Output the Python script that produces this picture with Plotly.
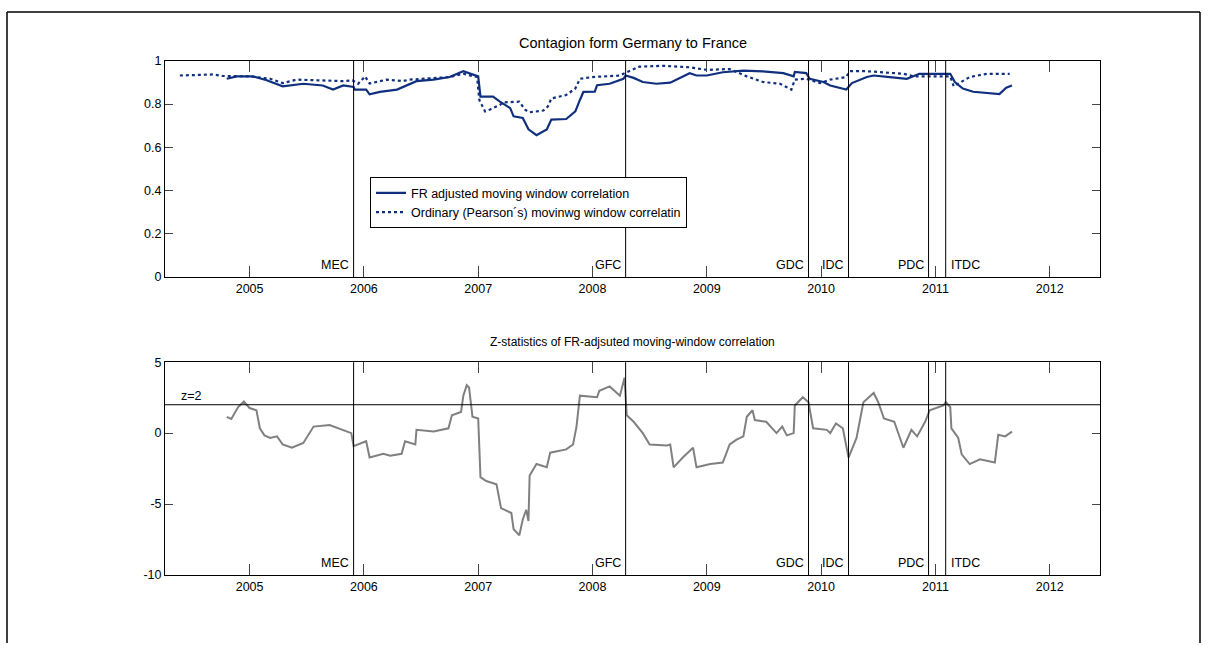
import plotly.graph_objects as go

# ---------------- data ----------------
fr_years = [2004.80, 2004.89, 2005.03, 2005.15, 2005.29, 2005.47, 2005.64, 2005.73, 2005.82, 2005.91,
            2005.92, 2006.02, 2006.05, 2006.14, 2006.29, 2006.34, 2006.46, 2006.61, 2006.75, 2006.87,
            2006.93, 2007.00, 2007.02, 2007.13, 2007.19, 2007.28, 2007.31, 2007.39, 2007.44, 2007.51,
            2007.60, 2007.64, 2007.77, 2007.85, 2007.89, 2007.92, 2008.02, 2008.04, 2008.15, 2008.27,
            2008.29, 2008.36, 2008.44, 2008.56, 2008.68, 2008.76, 2008.85, 2008.91, 2009.00, 2009.14,
            2009.32, 2009.49, 2009.67, 2009.76, 2009.77, 2009.87, 2009.90, 2010.02, 2010.08, 2010.22,
            2010.27, 2010.40, 2010.46, 2010.60, 2010.75, 2010.86, 2011.13, 2011.17, 2011.24, 2011.33,
            2011.48, 2011.56, 2011.62, 2011.67]
fr_values = [0.917, 0.928, 0.928, 0.910, 0.882, 0.894, 0.886, 0.867, 0.886, 0.879,
             0.867, 0.867, 0.845, 0.856, 0.867, 0.879, 0.906, 0.913, 0.925, 0.952,
             0.940, 0.928, 0.834, 0.834, 0.811, 0.781, 0.743, 0.736, 0.683, 0.656,
             0.683, 0.728, 0.731, 0.766, 0.819, 0.856, 0.857, 0.887, 0.894, 0.917,
             0.932, 0.921, 0.902, 0.894, 0.899, 0.921, 0.943, 0.932, 0.932, 0.947,
             0.955, 0.951, 0.943, 0.928, 0.949, 0.943, 0.917, 0.902, 0.886, 0.867,
             0.897, 0.925, 0.932, 0.925, 0.917, 0.940, 0.940, 0.902, 0.872, 0.857,
             0.850, 0.846, 0.876, 0.886]

pearson_years = [2004.39, 2004.68, 2004.76, 2005.00, 2005.18, 2005.29, 2005.41, 2005.62, 2005.82, 2005.90,
                 2005.95, 2006.01, 2006.05, 2006.20, 2006.34, 2006.40, 2006.52, 2006.75, 2006.87, 2006.93,
                 2006.99, 2007.01, 2007.06, 2007.10, 2007.19, 2007.22, 2007.36, 2007.41, 2007.45, 2007.57,
                 2007.61, 2007.64, 2007.77, 2007.85, 2007.89, 2008.00, 2008.09, 2008.24, 2008.30, 2008.41,
                 2008.62, 2008.85, 2009.00, 2009.20, 2009.35, 2009.49, 2009.64, 2009.74, 2009.77, 2009.87,
                 2009.99, 2010.08, 2010.22, 2010.25, 2010.40, 2010.51, 2010.72, 2010.81, 2010.89, 2011.13,
                 2011.16, 2011.22, 2011.30, 2011.45, 2011.65]
pearson_values = [0.932, 0.937, 0.930, 0.928, 0.917, 0.897, 0.913, 0.910, 0.906, 0.910,
                  0.894, 0.928, 0.895, 0.913, 0.906, 0.913, 0.917, 0.925, 0.940, 0.932,
                  0.925, 0.819, 0.766, 0.774, 0.796, 0.808, 0.811, 0.774, 0.762, 0.770,
                  0.789, 0.826, 0.842, 0.872, 0.917, 0.925, 0.928, 0.932, 0.947, 0.973,
                  0.977, 0.970, 0.958, 0.962, 0.928, 0.902, 0.894, 0.867, 0.913, 0.917,
                  0.897, 0.913, 0.925, 0.952, 0.952, 0.947, 0.940, 0.928, 0.928, 0.928,
                  0.882, 0.902, 0.925, 0.940, 0.940]

z_years = [2004.80, 2004.84, 2004.90, 2004.95, 2005.00, 2005.06, 2005.09, 2005.13, 2005.18, 2005.24,
           2005.29, 2005.37, 2005.47, 2005.56, 2005.70, 2005.82, 2005.89, 2005.91, 2006.02, 2006.05,
           2006.17, 2006.23, 2006.33, 2006.36, 2006.45, 2006.46, 2006.61, 2006.74, 2006.77, 2006.85,
           2006.87, 2006.90, 2006.92, 2006.95, 2007.00, 2007.02, 2007.07, 2007.16, 2007.20, 2007.29,
           2007.31, 2007.36, 2007.39, 2007.42, 2007.44, 2007.45, 2007.51, 2007.60, 2007.63, 2007.77,
           2007.83, 2007.86, 2007.89, 2008.04, 2008.06, 2008.15, 2008.24, 2008.28, 2008.30, 2008.36,
           2008.44, 2008.50, 2008.65, 2008.68, 2008.71, 2008.79, 2008.88, 2008.91, 2009.03, 2009.14,
           2009.20, 2009.26, 2009.32, 2009.35, 2009.40, 2009.42, 2009.52, 2009.61, 2009.66, 2009.70,
           2009.76, 2009.77, 2009.84, 2009.89, 2009.93, 2010.05, 2010.08, 2010.13, 2010.19, 2010.24,
           2010.31, 2010.37, 2010.46, 2010.50, 2010.55, 2010.64, 2010.72, 2010.79, 2010.84, 2010.91,
           2010.95, 2011.07, 2011.09, 2011.13, 2011.14, 2011.20, 2011.23, 2011.30, 2011.39, 2011.52,
           2011.55, 2011.61, 2011.67]
z_values = [1.15, 1.00, 1.84, 2.23, 1.77, 1.61, 0.34, -0.16, -0.34, -0.23,
            -0.80, -1.03, -0.69, 0.46, 0.57, 0.23, 0.00, -0.92, -0.57, -1.72,
            -1.46, -1.60, -1.46, -0.57, -0.80, 0.23, 0.11, 0.34, 1.26, 1.49,
            2.64, 3.38, 3.22, 1.15, 1.03, -3.10, -3.38, -3.60, -5.29, -5.63,
            -6.78, -7.20, -6.09, -5.40, -6.20, -2.99, -2.18, -2.40, -1.38, -1.15,
            -0.80, 0.46, 2.64, 2.53, 2.99, 3.29, 2.64, 3.91, 1.26, 0.80,
            0.00, -0.80, -0.87, -0.80, -2.41, -1.72, -1.03, -2.41, -2.18, -2.07,
            -0.80, -0.46, -0.23, 1.15, 1.61, 0.92, 0.80, 0.00, 0.46, -0.16,
            0.00, 1.95, 2.53, 2.18, 0.34, 0.23, 0.00, 0.69, 0.34, -1.72,
            -0.34, 2.18, 2.83, 2.18, 1.03, 0.80, -1.03, 0.23, -0.23, 0.80,
            1.61, 1.95, 2.18, 1.84, 0.34, -0.34, -1.49, -2.18, -1.84, -2.07,
            -0.11, -0.23, 0.11]

event_names = ["MEC", "GFC", "GDC", "IDC", "PDC", "ITDC"]
event_years = [2005.91, 2008.29, 2009.89, 2010.24, 2010.94, 2011.09]
event_label_side = ["left", "left", "left", "left", "left", "right"]

year_ticks = [2005, 2006, 2007, 2008, 2009, 2010, 2011, 2012]
year_labels = ["2005", "2006", "2007", "2008", "2009", "2010", "2011", "2012"]
top_yticks = [0, 0.2, 0.4, 0.6, 0.8, 1]
top_ylabels = ["0", "0.2", "0.4", "0.6", "0.8", "1"]
bot_yticks = [-10, -5, 0, 5]
bot_ylabels = ["-10", "-5", "0", "5"]
z_threshold = 2

# ---------------- figure ----------------
W, H = 1213, 650
FONT = "Liberation Sans Narrow, Arial Narrow, Liberation Sans, Arial, sans-serif"
NAVY = "#10307f"
GREY = "#808080"

def px_x(p):
    return p / W

def px_y(p):
    return 1 - p / H

fig = go.Figure()

fig.add_trace(go.Scatter(x=fr_years, y=fr_values, mode="lines",
                         line=dict(color=NAVY, width=2.2),
                         name="FR adjusted moving window correlation",
                         xaxis="x", yaxis="y"))
fig.add_trace(go.Scatter(x=pearson_years, y=pearson_values, mode="lines",
                         line=dict(color=NAVY, width=2.2, dash="dot"),
                         name="Ordinary (Pearson\u00b4s) movinwg window correlatin",
                         xaxis="x", yaxis="y"))
fig.add_trace(go.Scatter(x=z_years, y=z_values, mode="lines",
                         line=dict(color=GREY, width=2),
                         showlegend=False, xaxis="x2", yaxis="y2"))

xrange_ = [2004.26, 2012.44]
axis_common = dict(showline=True, linecolor="black", linewidth=1, mirror="ticks",
                   ticks="inside", tickcolor="#444", showgrid=False, zeroline=False,
                   tickfont=dict(family=FONT, size=12.5, color="black"))

fig.update_layout(
    width=W, height=H,
    margin=dict(l=0, r=0, t=0, b=0),
    paper_bgcolor="white", plot_bgcolor="white",
    font=dict(family=FONT, size=12, color="black"),
    showlegend=True,
    legend=dict(x=px_x(370), y=px_y(174), xanchor="left", yanchor="top",
                bgcolor="white", bordercolor="black", borderwidth=1,
                font=dict(family=FONT, size=12.5, color="black"),
                tracegroupgap=0, itemwidth=30),
    xaxis=dict(domain=[px_x(165), px_x(1100)], range=xrange_, anchor="y",
               tickvals=year_ticks, ticktext=year_labels, ticklen=11, **axis_common),
    yaxis=dict(domain=[px_y(276), px_y(55)], range=[0, 1], anchor="x",
               tickvals=top_yticks, ticktext=top_ylabels, ticklen=8, **axis_common),
    xaxis2=dict(domain=[px_x(165), px_x(1100)], range=xrange_, anchor="y2",
                tickvals=year_ticks, ticktext=year_labels, ticklen=11, **axis_common),
    yaxis2=dict(domain=[px_y(580.5), px_y(363)], range=[-10, 5], anchor="x2",
                tickvals=bot_yticks, ticktext=bot_ylabels, ticklen=8, **axis_common),
)

shapes = []
annotations = []
for name, yr, side in zip(event_names, event_years, event_label_side):
    for xr, yr_ref in (("x", "y domain"), ("x2", "y2 domain")):
        shapes.append(dict(type="line", xref=xr, yref=yr_ref, x0=yr, x1=yr, y0=0, y1=1,
                           line=dict(color="black", width=1)))
        annotations.append(dict(text=name, xref=xr, yref=yr_ref, x=yr, y=0.015,
                                xanchor="right" if side == "left" else "left",
                                yanchor="bottom", showarrow=False,
                                xshift=-3 if side == "left" else 3,
                                font=dict(family=FONT, size=12.5, color="black")))

# z = 2 threshold line
shapes.append(dict(type="line", xref="x2 domain", yref="y2", x0=0, x1=1,
                   y0=z_threshold, y1=z_threshold, line=dict(color="black", width=1)))
annotations.append(dict(text="z=2", xref="x2 domain", yref="y2", x=0.015, y=z_threshold,
                        xanchor="left", yanchor="bottom", showarrow=False,
                        font=dict(family=FONT, size=12.5, color="black")))

# titles
annotations.append(dict(text="Contagion form Germany to France", xref="x domain", yref="paper",
                        x=0.5, y=px_y(37), xanchor="center", yanchor="middle", showarrow=False,
                        font=dict(family=FONT, size=14.5, color="black")))
annotations.append(dict(text="Z-statistics of FR-adjsuted moving-window correlation",
                        xref="x2 domain", yref="paper", x=0.5, y=px_y(342),
                        xanchor="center", yanchor="middle", showarrow=False,
                        font=dict(family=FONT, size=12, color="black")))

# outer frame
shapes.append(dict(type="line", xref="paper", yref="paper", x0=px_x(7), x1=px_x(7),
                   y0=0, y1=px_y(5), line=dict(color="black", width=1.5)))
shapes.append(dict(type="line", xref="paper", yref="paper", x0=px_x(7), x1=px_x(1200),
                   y0=px_y(5), y1=px_y(5), line=dict(color="black", width=1.5)))
shapes.append(dict(type="line", xref="paper", yref="paper", x0=px_x(1200), x1=px_x(1200),
                   y0=0, y1=px_y(5), line=dict(color="black", width=1.5)))

fig.update_layout(shapes=shapes, annotations=annotations)
fig.write_html("out.html", config={"displayModeBar": False},
               post_script="document.body.style.margin='0';document.body.style.overflow='hidden';")
